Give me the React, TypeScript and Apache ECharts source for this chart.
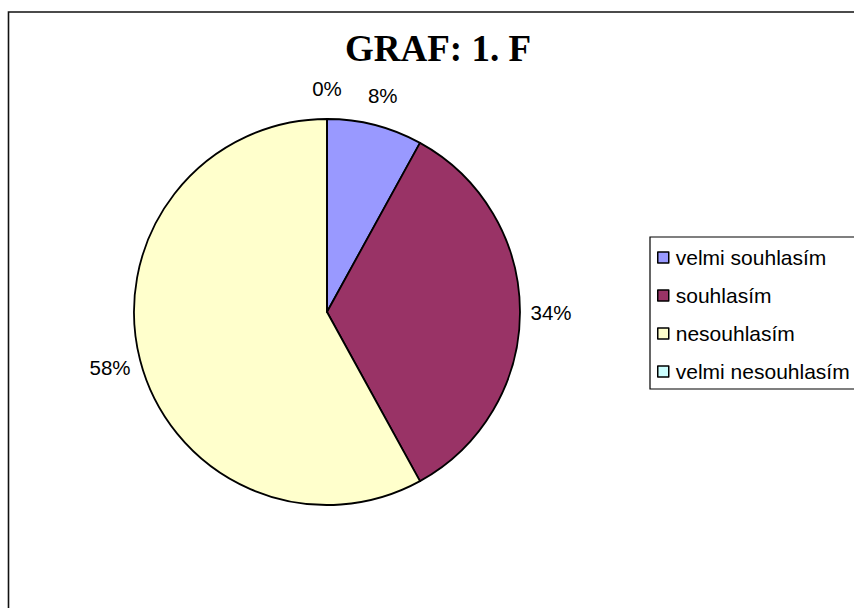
import React, { useEffect, useRef } from "react";
import * as echarts from "echarts";

const categories = ["velmi souhlasím", "souhlasím", "nesouhlasím", "velmi nesouhlasím"];
const values = [8, 34, 58, 0];
const colors = ["#9999FF", "#993366", "#FFFFCC", "#CCFFFF"];
const titleText = "GRAF: 1. F";

const CX = 327;
const CY = 312;
const R = 193;
const LABEL_R = R + 31;

export default function App() {
  const ref = useRef<HTMLDivElement>(null);
  useEffect(() => {
    if (!ref.current) return;
    const chart = echarts.init(ref.current, null, { renderer: "svg" });
    chart.setOption({
      animation: false,
      backgroundColor: "#ffffff",
      title: {
        text: titleText,
        left: 340,
        top: 25,
        textStyle: {
          fontFamily: "Liberation Serif",
          fontWeight: "bold",
          fontSize: 37,
          color: "#000",
        },
      },
      graphic: [
        {
          type: "rect",
          shape: { x: 8.5, y: 12, width: 1000, height: 1000 },
          style: { fill: "none", stroke: "#111", lineWidth: 1.6 },
          silent: true,
          z: -1,
        },
      ],
      legend: {
        orient: "vertical",
        left: 650,
        top: 237,
        padding: [10, 40, 7, 7],
        itemGap: 17,
        itemWidth: 11,
        itemHeight: 11,
        icon: "rect",
        borderColor: "#000",
        borderWidth: 1.2,
        itemStyle: { borderColor: "#000", borderWidth: 1.5 },
        textStyle: {
          fontFamily: "Liberation Sans",
          fontSize: 21,
          lineHeight: 20,
          color: "#000",
          padding: [0, 0, 0, 2],
        },
        data: categories,
      },
      series: [
        {
          type: "pie",
          center: [CX, CY],
          radius: R,
          startAngle: 90,
          clockwise: true,
          avoidLabelOverlap: false,
          minShowLabelAngle: 0,
          stillShowZeroSum: true,
          itemStyle: { borderColor: "#000", borderWidth: 1.8 },
          emphasis: { disabled: true },
          label: {
            show: true,
            position: "outside",
            formatter: (p: any) => `${Math.round(p.percent)}%`,
            fontFamily: "Liberation Sans",
            fontSize: 20.5,
            color: "#000",
          },
          labelLine: { show: true, length: 8, length2: 0, lineStyle: { opacity: 0, width: 0 } },
          labelLayout: (params: any) => {
            const pts = params.labelLinePoints;
            if (!pts || !pts[0]) return {};
            const dx = pts[0][0] - CX;
            const dy = pts[0][1] - CY;
            const len = Math.sqrt(dx * dx + dy * dy) || 1;
            return {
              x: CX + (dx / len) * LABEL_R,
              y: CY + (dy / len) * LABEL_R,
              align: "center",
              verticalAlign: "middle",
            };
          },
          data: categories.map((name, i) => ({
            name,
            value: values[i],
            itemStyle: { color: colors[i] },
          })),
        },
      ],
    });
    return () => chart.dispose();
  }, []);
  return (
    <div
      ref={ref}
      style={{ position: "fixed", left: 0, top: 0, width: 854, height: 608 }}
    />
  );
}
